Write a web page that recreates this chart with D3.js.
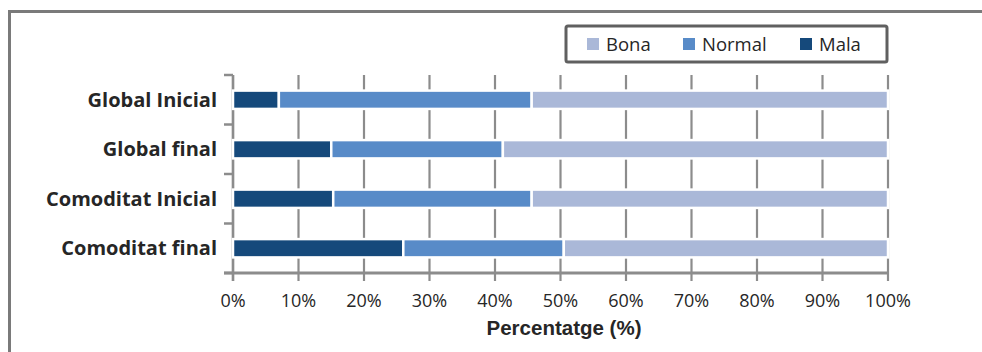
<!DOCTYPE html>
<html>
<head>
<meta charset="utf-8">
<script src="https://cdn.jsdelivr.net/npm/d3@7"></script>
<style>
  html, body { margin: 0; padding: 0; background: #fff; }
  svg { display: block; }
</style>
</head>
<body>
<svg id="chart" width="982" height="352"></svg>
<script>
const categories = ["Global Inicial", "Global final", "Comoditat Inicial", "Comoditat final"];
const seriesNames = ["Mala", "Normal", "Bona"];
const mala   = [7.0, 15.0, 15.3, 26.0];
const normal = [38.6, 26.2, 30.3, 24.5];
const bona   = [54.4, 58.8, 54.4, 49.5];
const xTicks = [0, 10, 20, 30, 40, 50, 60, 70, 80, 90, 100];
const legendOrder = ["Bona", "Normal", "Mala"];
const xTitle = "Percentatge (%)";

const colors = { Mala: "#15497b", Normal: "#588bc8", Bona: "#aab8d8" };
const gridColor = "#8c8c8c";
const textColor = "#262626";

const rows = categories.map((c, i) => ({ cat: c, Mala: mala[i], Normal: normal[i], Bona: bona[i] }));
const stacked = d3.stack().keys(seriesNames)(rows);

const svg = d3.select("#chart");
const pLeft = 233, pRight = 888, pTop = 75, pBottom = 273;

const x = d3.scaleLinear().domain([0, 100]).range([pLeft, pRight]);
const y = d3.scaleBand().domain(categories).range([pTop, pBottom]).paddingInner(0.63).paddingOuter(0.315);
const yOuter = d3.scaleBand().domain(categories).range([pTop, pBottom]);

// outer frame
svg.append("rect").attr("x", 9.5).attr("y", 11.5).attr("width", 1000).attr("height", 400)
  .attr("fill", "none").attr("stroke", "#7a7a7a").attr("stroke-width", 3);

// vertical gridlines (extend below axis as ticks)
svg.append("g").selectAll("line").data(xTicks).join("line")
  .attr("x1", d => x(d)).attr("x2", d => x(d))
  .attr("y1", pTop).attr("y2", pBottom + 8)
  .attr("stroke", gridColor).attr("stroke-width", 2.2);

// y axis line
svg.append("line").attr("x1", pLeft).attr("x2", pLeft).attr("y1", pTop).attr("y2", pBottom + 8)
  .attr("stroke", gridColor).attr("stroke-width", 2.5);
// y axis ticks at band boundaries
const bounds = categories.map(c => yOuter(c)).concat([pBottom]);
svg.append("g").selectAll("line").data(bounds).join("line")
  .attr("x1", pLeft - 9).attr("x2", pLeft)
  .attr("y1", d => d).attr("y2", d => d)
  .attr("stroke", gridColor).attr("stroke-width", 2.5);

// x axis line
svg.append("line").attr("x1", pLeft - 9).attr("x2", pRight + 1).attr("y1", pBottom).attr("y2", pBottom)
  .attr("stroke", gridColor).attr("stroke-width", 3);

// bars
svg.append("g").selectAll("g").data(stacked).join("g")
  .attr("fill", d => colors[d.key])
  .selectAll("rect").data(d => d).join("rect")
  .attr("x", d => x(d[0]))
  .attr("width", d => x(d[1]) - x(d[0]))
  .attr("y", d => y(d.data.cat))
  .attr("height", y.bandwidth())
  .attr("stroke", "#ffffff").attr("stroke-width", 2.5);

// x tick labels
svg.append("g").selectAll("text").data(xTicks).join("text")
  .attr("x", d => x(d)).attr("y", 306.5)
  .attr("text-anchor", "middle")
  .attr("font-family", "'Open Sans', sans-serif").attr("font-size", 18)
  .attr("fill", textColor)
  .text(d => d + "%");

// x title
svg.append("text").attr("x", 564).attr("y", 335)
  .attr("text-anchor", "middle")
  .attr("font-family", "'Liberation Sans', Arial, sans-serif").attr("font-size", 20.5).attr("font-weight", "bold")
  .attr("fill", textColor).text(xTitle);

// category labels
svg.append("g").selectAll("text").data(categories).join("text")
  .attr("x", 217).attr("y", d => y(d) + y.bandwidth() / 2)
  .attr("dy", "0.36em")
  .attr("text-anchor", "end")
  .attr("font-family", "'Open Sans', sans-serif").attr("font-size", 20).attr("font-weight", "bold")
  .attr("fill", textColor)
  .text(d => d);

// legend
const lg = svg.append("g");
lg.append("rect").attr("x", 566).attr("y", 26).attr("width", 321).attr("height", 36)
  .attr("rx", 2).attr("fill", "#fff").attr("stroke", "#606060").attr("stroke-width", 3);
const legendX = { Bona: 587, Normal: 683, Mala: 800 };
legendOrder.forEach(k => {
  lg.append("rect").attr("x", legendX[k]).attr("y", 38).attr("width", 12).attr("height", 12)
    .attr("fill", colors[k]);
  lg.append("text").attr("x", legendX[k] + 19).attr("y", 44).attr("dy", "0.36em")
    .attr("font-family", "'Open Sans', sans-serif").attr("font-size", 18.5)
    .attr("fill", textColor).text(k);
});
</script>
</body>
</html>
